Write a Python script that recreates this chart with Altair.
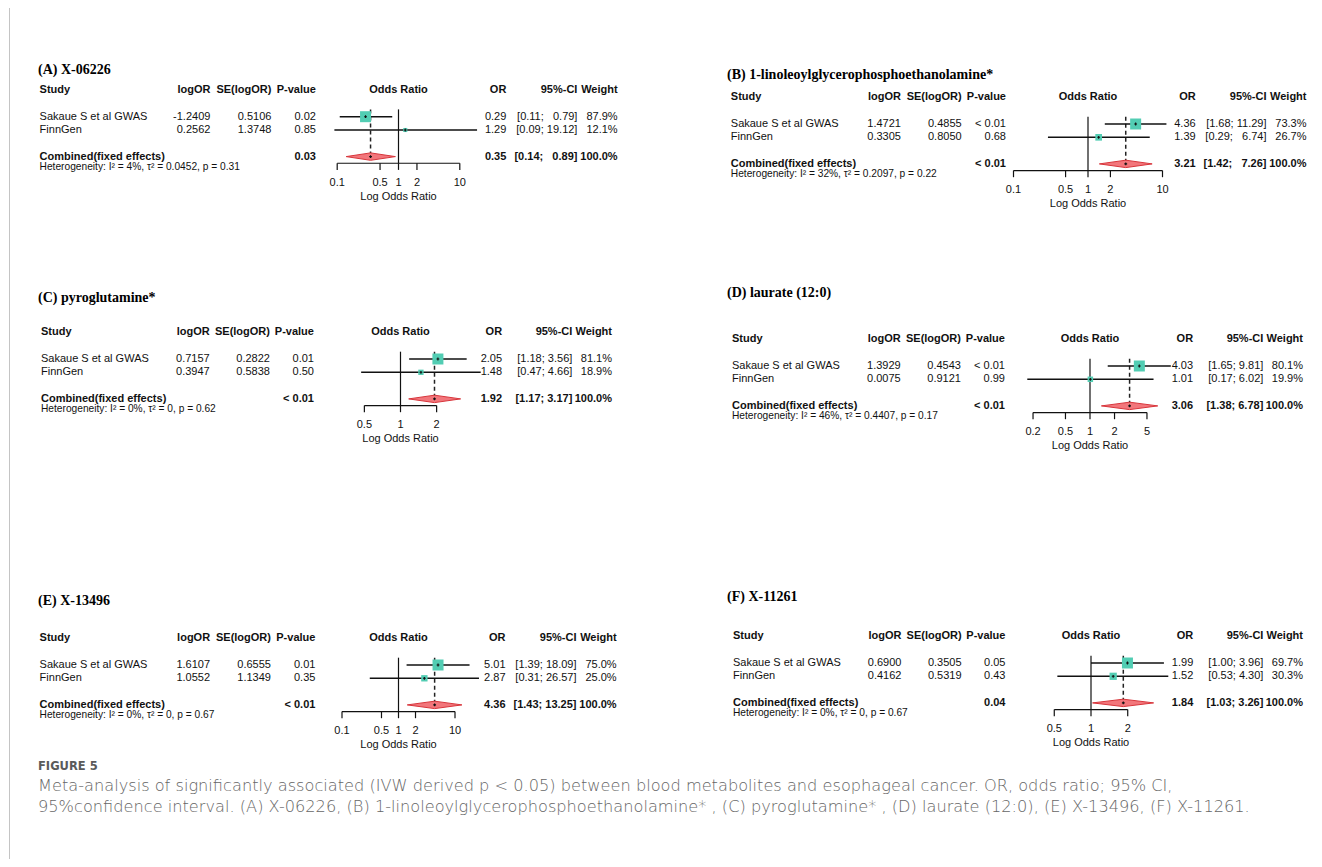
import math
import altair as alt
import pandas as pd

# ------------------------------------------------------------------ data
panel_titles = [
    "(A) X-06226",
    "(B) 1-linoleoylglycerophosphoethanolamine*",
    "(C) pyroglutamine*",
    "(D) laurate (12:0)",
    "(E) X-13496",
    "(F) X-11261",
]
studies = ["Sakaue S et al GWAS", "FinnGen"]

log_or = [["-1.2409", "0.2562"], ["1.4721", "0.3305"], ["0.7157", "0.3947"],
          ["1.3929", "0.0075"], ["1.6107", "1.0552"], ["0.6900", "0.4162"]]
se_log_or = [["0.5106", "1.3748"], ["0.4855", "0.8050"], ["0.2822", "0.5838"],
             ["0.4543", "0.9121"], ["0.6555", "1.1349"], ["0.3505", "0.5319"]]
p_values = [["0.02", "0.85"], ["< 0.01", "0.68"], ["0.01", "0.50"],
            ["< 0.01", "0.99"], ["0.01", "0.35"], ["0.05", "0.43"]]
odds_ratio = [[0.29, 1.29], [4.36, 1.39], [2.05, 1.48], [4.03, 1.01], [5.01, 2.87], [1.99, 1.52]]
ci_lower = [[0.11, 0.09], [1.68, 0.29], [1.18, 0.47], [1.65, 0.17], [1.39, 0.31], [1.00, 0.53]]
ci_upper = [[0.79, 19.12], [11.29, 6.74], [3.56, 4.66], [9.81, 6.02], [18.09, 26.57], [3.96, 4.30]]
weights = [[87.9, 12.1], [73.3, 26.7], [81.1, 18.9], [80.1, 19.9], [75.0, 25.0], [69.7, 30.3]]

comb_p = ["0.03", "< 0.01", "< 0.01", "< 0.01", "< 0.01", "0.04"]
comb_or = [0.35, 3.21, 1.92, 3.06, 4.36, 1.84]
comb_lower = [0.14, 1.42, 1.17, 1.38, 1.43, 1.03]
comb_upper = [0.89, 7.26, 3.17, 6.78, 13.25, 3.26]
comb_weight = [100.0, 100.0, 100.0, 100.0, 100.0, 100.0]

het_i2 = ["4%", "32%", "0%", "46%", "0%", "0%"]
het_tau2 = ["0.0452", "0.2097", "0", "0.4407", "0", "0"]
het_p = ["0.31", "0.22", "0.62", "0.17", "0.67", "0.67"]

axis_ticks = [[0.1, 0.5, 1, 2, 10], [0.1, 0.5, 1, 2, 10], [0.5, 1, 2],
              [0.2, 0.5, 1, 2, 5], [0.1, 0.5, 1, 2, 10], [0.5, 1, 2]]

caption_label = "FIGURE 5"
caption_line1 = ("Meta-analysis of significantly associated (IVW derived p < 0.05) between blood "
                 "metabolites and esophageal cancer. OR, odds ratio; 95% CI,")
caption_line2 = ("95%confidence interval. (A) X-06226, (B) 1-linoleoylglycerophosphoethanolamine* , "
                 "(C) pyroglutamine* , (D) laurate (12:0), (E) X-13496, (F) X-11261.")

# ------------------------------------------------------------------ layout (page pixels)
LAYOUT = [
    dict(title_x=38, title_y=70, left=39.6, span=578, row1=116.7, cx=398.5, k=61.3),
    dict(title_x=727, title_y=75, left=730.8, span=575.7, row1=124, cx=1088, k=74.5),
    dict(title_x=38, title_y=298, left=41, span=571, row1=359, cx=400.5, k=120),
    dict(title_x=727, title_y=293, left=732, span=571, row1=366, cx=1090, k=81.5),
    dict(title_x=38, title_y=601, left=39.6, span=577, row1=665, cx=398.5, k=56.5),
    dict(title_x=727, title_y=597, left=733, span=570, row1=663, cx=1091, k=122),
]
OFF = 8          # page margin
U = 13.3         # row height in px
FONT = "Liberation Sans"
INK = "#111111"
SQUARE = "#52CDB3"
DIAMOND_FILL = "#F2767B"
DIAMOND_STROKE = "#D8353B"
NB = "\u00a0"

one = pd.DataFrame({"k": [0]})


def panel(i):
    L = LAYOUT[i]
    hdr = L["row1"] - 2 * U - OFF
    ys = alt.Scale(domain=[0, 10], range=[hdr, hdr + 10 * U], nice=False, zero=False)
    ticks = axis_ticks[i]
    tmin, tmax = min(ticks), max(ticks)
    cx = L["cx"] - OFF
    xs = alt.Scale(type="log", domain=[tmin, tmax], nice=False,
                   range=[cx + math.log10(tmin) * L["k"], cx + math.log10(tmax) * L["k"]])
    left = L["left"] - OFF
    span = L["span"]
    col_logor = left + 0.2955 * span
    col_se = left + 0.401 * span
    col_p = left + 0.478 * span
    col_or = left + 0.8075 * span
    col_ci = left + 0.9305 * span
    col_w = left + span

    his = [f"{v:.2f}" for v in ci_upper[i]] + [f"{comb_upper[i]:.2f}"]
    maxlen = max(len(s) for s in his)

    def ci_text(lo, hi):
        h = f"{hi:.2f}"
        return f"[{lo:.2f}; " + NB * 2 * (maxlen - len(h)) + h + "]"

    sdf = pd.DataFrame({
        "row": [2, 3],
        "study": studies,
        "logor": log_or[i],
        "se": se_log_or[i],
        "p": p_values[i],
        "or": odds_ratio[i],
        "lo": ci_lower[i],
        "hi": ci_upper[i],
        "w": weights[i],
    })
    sdf["or_txt"] = [f"{v:.2f}" for v in sdf["or"]]
    sdf["ci_txt"] = [ci_text(a, b) for a, b in zip(sdf["lo"], sdf["hi"])]
    sdf["w_txt"] = [f"{v:.1f}%" for v in sdf["w"]]

    cdf = pd.DataFrame({
        "row": [5],
        "label": ["Combined(fixed effects)"],
        "p": [comb_p[i]],
        "or": [comb_or[i]],
        "or_txt": [f"{comb_or[i]:.2f}"],
        "ci_txt": [ci_text(comb_lower[i], comb_upper[i])],
        "w_txt": [f"{comb_weight[i]:.1f}%"],
    })
    h = 0.28
    ddf = pd.DataFrame({
        "x": [comb_lower[i], comb_or[i], comb_upper[i]],
        "y": [5, 5 - h, 5],
        "y2": [5, 5 + h, 5],
    })
    tdf = pd.DataFrame({"t": ticks, "lab": [f"{t:g}" for t in ticks]})

    Y = lambda f: alt.Y(f, scale=ys, axis=None)
    YD = lambda v: alt.YDatum(v, scale=ys, axis=None)
    X = lambda f: alt.X(f, scale=xs, axis=None)
    XD = lambda v: alt.XDatum(v, scale=xs, axis=None)

    def col_text(df, field, x, align="right", bold=False, size=11):
        return alt.Chart(df).mark_text(
            align=align, baseline="middle", font=FONT, fontSize=size,
            fontWeight="bold" if bold else "normal", color=INK
        ).encode(x=alt.value(x), y=Y("row:Q"), text=f"{field}:N")

    def head_text(label, x, align="right"):
        return alt.Chart(one).mark_text(
            text=label, align=align, baseline="middle", font=FONT, fontSize=11,
            fontWeight="bold", color=INK
        ).encode(x=alt.value(x), y=YD(0))

    layers = []
    # panel title
    layers.append(alt.Chart(one).mark_text(
        text=panel_titles[i], align="left", baseline="middle", font="Liberation Serif",
        fontSize=14, fontWeight="bold", color="#000000"
    ).encode(x=alt.value(L["title_x"] - OFF), y=alt.value(L["title_y"] - OFF)))

    # header
    layers += [
        head_text("Study", left, "left"),
        head_text("logOR", col_logor),
        head_text("SE(logOR)", col_se),
        head_text("P-value", col_p),
        alt.Chart(one).mark_text(
            text="Odds Ratio", align="center", baseline="middle", font=FONT, fontSize=11,
            fontWeight="bold", color=INK).encode(x=XD(1), y=YD(0)),
        head_text("OR", col_or),
        head_text("95%-CI", col_ci),
        head_text("Weight", col_w),
    ]
    # study rows
    layers += [
        col_text(sdf, "study", left, "left"),
        col_text(sdf, "logor", col_logor),
        col_text(sdf, "se", col_se),
        col_text(sdf, "p", col_p),
        col_text(sdf, "or_txt", col_or),
        col_text(sdf, "ci_txt", col_ci),
        col_text(sdf, "w_txt", col_w),
    ]
    # combined row
    layers += [
        col_text(cdf, "label", left, "left", bold=True),
        col_text(cdf, "p", col_p, bold=True),
        col_text(cdf, "or_txt", col_or, bold=True),
        col_text(cdf, "ci_txt", col_ci, bold=True),
        col_text(cdf, "w_txt", col_w, bold=True),
    ]
    # heterogeneity
    het = f"Heterogeneity: I\u00b2 = {het_i2[i]}, \u03c4\u00b2 = {het_tau2[i]}, p = {het_p[i]}"
    layers.append(alt.Chart(one).mark_text(
        text=het, align="left", baseline="middle", font=FONT, fontSize=10.2, color=INK
    ).encode(x=alt.value(left), y=YD(5.78)))

    # forest graphics
    layers += [
        alt.Chart(cdf).mark_rule(strokeDash=[4, 3], strokeWidth=1.5, color="#222222").encode(
            x=X("or:Q"), y=YD(1.45), y2=alt.Y2Datum(5)),
        alt.Chart(one).mark_rule(color=INK, strokeWidth=1.2).encode(
            x=XD(1), y=YD(1.45), y2=alt.Y2Datum(5.5)),
        alt.Chart(sdf).mark_rule(color=INK, strokeWidth=1.6).encode(
            x=X("lo:Q"), x2="hi:Q", y=Y("row:Q")),
        alt.Chart(sdf).mark_square(color=SQUARE, opacity=1, filled=True).encode(
            x=X("or:Q"), y=Y("row:Q"),
            size=alt.Size("w:Q", scale=alt.Scale(domain=[0, max(weights[i])], range=[0, 121]),
                          legend=None)),
        alt.Chart(sdf).mark_point(shape="cross", filled=True, size=8, color=INK, opacity=1).encode(
            x=X("or:Q"), y=Y("row:Q")),
        alt.Chart(ddf).mark_area(fill=DIAMOND_FILL, stroke=DIAMOND_STROKE, strokeWidth=1,
                                 opacity=1).encode(
            x=X("x:Q"), y=Y("y:Q"), y2="y2:Q"),
        alt.Chart(cdf).mark_point(shape="cross", filled=True, size=8, color=INK, opacity=1).encode(
            x=X("or:Q"), y=Y("row:Q")),
    ]
    # hand-drawn x axis (R style: line only between first and last tick)
    layers += [
        alt.Chart(one).mark_rule(color=INK, strokeWidth=1.2).encode(
            x=XD(tmin), x2=alt.X2Datum(tmax), y=YD(5.5)),
        alt.Chart(tdf).mark_rule(color=INK, strokeWidth=1.2).encode(
            x=X("t:Q"), y=YD(5.5), y2=alt.Y2Datum(6.0)),
        alt.Chart(tdf).mark_text(align="center", baseline="middle", font=FONT, fontSize=11,
                                 color=INK).encode(x=X("t:Q"), y=YD(6.95), text="lab:N"),
        alt.Chart(one).mark_text(text="Log Odds Ratio", align="center", baseline="middle",
                                 font=FONT, fontSize=11, color=INK).encode(x=XD(1), y=YD(8.05)),
    ]
    return alt.layer(*layers)


panels = [panel(i) for i in range(6)]

border = alt.Chart(one).mark_rule(color="#c4c4c4", strokeWidth=1).encode(
    x=alt.value(1.5), y=alt.value(0), y2=alt.value(851))

cap_font = "DejaVu Sans"
caption = [
    alt.Chart(one).mark_text(text=caption_label, align="left", baseline="middle", font=cap_font,
                             fontSize=11.5, fontWeight="bold", color="#5a5a5a").encode(
        x=alt.value(30), y=alt.value(759)),
    alt.Chart(one).mark_text(text=caption_line1, align="left", baseline="middle", font=cap_font,
                             fontSize=16.2, fontWeight=200, color="#666666").encode(
        x=alt.value(30), y=alt.value(778)),
    alt.Chart(one).mark_text(text=caption_line2, align="left", baseline="middle", font=cap_font,
                             fontSize=16.2, fontWeight=200, color="#666666").encode(
        x=alt.value(30), y=alt.value(799)),
]

chart = alt.layer(border, *panels, *caption).resolve_scale(
    x="independent", y="independent", size="independent"
).properties(
    width=1306, height=851, padding=0, autosize=alt.AutoSizeParams(type="none")
).configure_view(stroke=None)

chart.save("out.html", embed_options={"renderer": "svg", "actions": False})
